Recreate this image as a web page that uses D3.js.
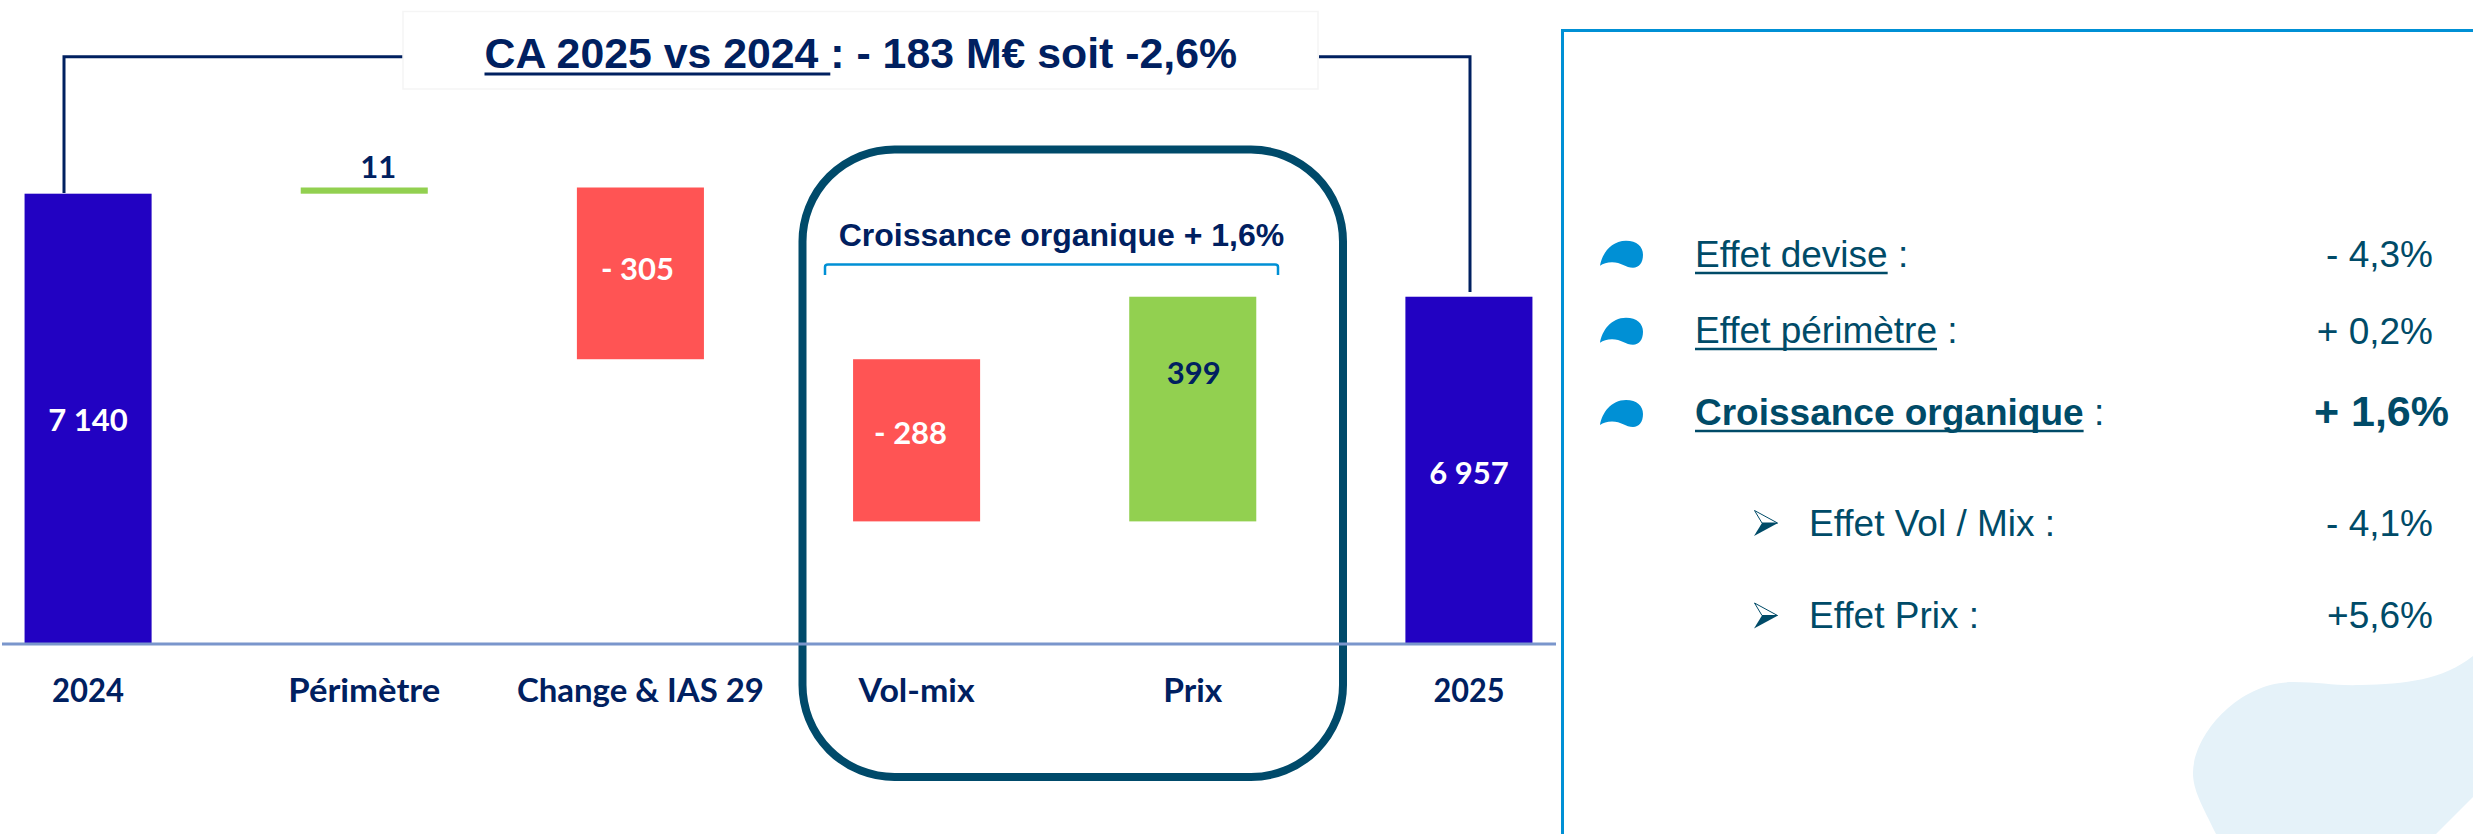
<!DOCTYPE html>
<html lang="fr">
<head>
<meta charset="utf-8">
<style>
html,body{margin:0;padding:0;background:#fff;}
svg{display:block;}
text{font-family:"Liberation Sans",Arial,sans-serif;}
.cal{font-family:Lato,"Noto Sans",sans-serif;font-weight:700;}
</style>
<script src="https://cdnjs.cloudflare.com/ajax/libs/d3/7.9.0/d3.min.js"></script>
</head>
<body>
<script>
// ---- data ----
const categories = ["2024", "Périmètre", "Change & IAS 29", "Vol-mix", "Prix", "2025"];
const kinds      = ["total", "delta", "delta", "delta", "delta", "total"];
const values     = [7140, 11, -305, -288, 399, 6957];
const barLabels  = ["7 140", "11", "- 305", "- 288", "399", "6 957"];
const title1 = "CA 2025 vs 2024 ";
const title2 = ": - 183 M€ soit -2,6%";
const bracketTitle = "Croissance organique + 1,6%";
const effectLabels = ["Effet devise", "Effet périmètre", "Croissance organique"];
const effectValues = ["- 4,3%", "+ 0,2%", "+ 1,6%"];
const subLabels = ["Effet Vol / Mix :", "Effet Prix :"];
const subValues = ["- 4,1%", "+5,6%"];

const W = 2473, H = 834;
const NAVY = "#002060", TEAL = "#004B68", BLUE = "#0090D5";
const COLORS = {total:"#2202C2", up:"#92D050", down:"#FF5454"};

const svg = d3.select("body").append("svg").attr("width", W).attr("height", H).attr("viewBox",`0 0 ${W} ${H}`);

// background blob + right panel
svg.append("path").attr("fill","#E5F2F9")
  .attr("d","M2216,834 C2202,805 2193,790 2193,773 C2193,735 2238,682 2293,682 C2320,682 2335,686 2361,685 C2405,684 2443,680 2473,656 L2473,797 L2436,834 Z");
svg.append("path").attr("fill","none").attr("stroke",BLUE).attr("stroke-width",3)
  .attr("d",`M1562.5,${H} V30.5 H${W}`);

// waterfall computation
let running = 0;
const bars = values.map((v,i)=>{
  if(kinds[i]==="total"){ running = v; return {cat:categories[i],kind:"total",lo:null,hi:v,label:barLabels[i],v}; }
  const a = running, b = running + v; running = b;
  return {cat:categories[i],kind:v>=0?"up":"down",lo:Math.min(a,b),hi:Math.max(a,b),label:barLabels[i],v};
});

// scales (truncated value axis, as in the original)
const x = d3.scaleBand().domain(categories).range([-50,1607]).paddingInner(0.54).paddingOuter(0.27);
const y = d3.scaleLinear().domain([6342,7151]).range([643,187.5]);

// rounded focus frame (below the bars)
svg.append("rect").attr("x",802.5).attr("y",149.5).attr("width",540.5).attr("height",627.5)
  .attr("rx",92).attr("ry",92).attr("fill","none").attr("stroke","#004A6A").attr("stroke-width",8);

// bars
svg.append("g").selectAll("rect").data(bars).join("rect")
  .attr("x",d=>x(d.cat)).attr("width",x.bandwidth())
  .attr("y",d=>y(d.hi))
  .attr("height",d=>(d.lo===null? y.range()[0] : y(d.lo))-y(d.hi))
  .attr("fill",d=>COLORS[d.kind]);

// axis
const axisWidths = {"2024":72,"Périmètre":152,"Change & IAS 29":247,"Vol-mix":116,"Prix":59,"2025":71};
const axis = d3.axisBottom(x).tickSize(0).tickPadding(0);
const gx = svg.append("g").attr("transform","translate(0,644)").call(axis);
gx.select(".domain").remove();
gx.append("line").attr("x1",2).attr("x2",1556).attr("stroke","#7A96CC").attr("stroke-width",3);
gx.selectAll(".tick text").attr("class","cal").attr("font-size",33).attr("fill",NAVY)
  .attr("y",0).attr("dy",58).style("font-family",'Lato,"Noto Sans",sans-serif').style("font-weight",700)
  .attr("textLength",d=>axisWidths[d]).attr("lengthAdjust","spacingAndGlyphs");

// bar value labels
const labelY = {"2024":431,"Périmètre":178,"Change & IAS 29":280,"Vol-mix":444,"Prix":384,"2025":484};
const labelDx = {"2024":0,"Périmètre":14,"Change & IAS 29":-3,"Vol-mix":-6,"Prix":1,"2025":0};
svg.append("g").selectAll("text").data(bars).join("text").attr("class","cal")
  .attr("x",d=>x(d.cat)+x.bandwidth()/2+labelDx[d.cat])
  .attr("y",d=>labelY[d.cat]).attr("text-anchor","middle").attr("font-size",31)
  .attr("fill",d=>(d.cat==="Périmètre"||d.cat==="Prix")?NAVY:"#fff").text(d=>d.label);

// connectors
svg.append("path").attr("fill","none").attr("stroke",NAVY).attr("stroke-width",3)
  .attr("d",`M64,193 V56.7 H403`);
svg.append("path").attr("fill","none").attr("stroke",NAVY).attr("stroke-width",3)
  .attr("d",`M1319,56.7 H1470 V292`);

// title box
svg.append("rect").attr("x",403).attr("y",11.5).attr("width",915).attr("height",77.5)
  .attr("fill","#fff").attr("stroke","#F5F5F5").attr("stroke-width",1.5);
const t = svg.append("text").attr("x",484.5).attr("y",68).attr("font-size",42.8).attr("font-weight",700).attr("fill",NAVY).attr("xml:space","preserve").style("white-space","pre");
const t1 = t.append("tspan").text(title1);
t.append("tspan").text(title2);
const tw = t1.node().getComputedTextLength();
svg.append("line").attr("x1",484.5).attr("x2",484.5+tw).attr("y1",74).attr("y2",74).attr("stroke",NAVY).attr("stroke-width",3);

// organic growth bracket
svg.append("text").attr("x",1061.5).attr("y",246).attr("text-anchor","middle").attr("font-size",32).attr("font-weight",700).attr("fill",NAVY).text(bracketTitle);
svg.append("path").attr("fill","none").attr("stroke",BLUE).attr("stroke-width",2.5)
  .attr("d","M825,275 V267 Q825,264.5 828,264.5 H1275 Q1278,264.5 1278,267 V275");

// right panel rows
const rowBase = [267, 343, 425];
const bulletTop = [240.7, 317.7, 400];
effectLabels.forEach((lab,i)=>{
  const bold = i===2;
  svg.append("path").attr("fill",BLUE).attr("transform",`translate(1600,${bulletTop[i]})`)
    .attr("d","M0,25 C2,13 11,0 26,0 C37,0 43,6 43,14 C43,22 39,27 33,27 C26,27 21,21.5 12,21.5 C7,21.5 3,23 0,25 Z");
  const tx = svg.append("text").attr("x",1695).attr("y",rowBase[i]).attr("font-size",37).attr("fill",TEAL).attr("xml:space","preserve").style("white-space","pre");
  const a = tx.append("tspan").attr("font-weight",bold?700:400).text(lab);
  tx.append("tspan").attr("font-weight",400).attr("font-size",37).text(" :");
  const w = a.node().getComputedTextLength();
  svg.append("line").attr("x1",1695).attr("x2",1695+w).attr("y1",rowBase[i]+6).attr("y2",rowBase[i]+6).attr("stroke",TEAL).attr("stroke-width",2.5);
  svg.append("text").attr("x",bold?2449:2433).attr("y",rowBase[i]+(i===0?0:1)).attr("text-anchor","end")
    .attr("font-size",bold?43:37).attr("font-weight",bold?700:400).attr("fill",TEAL).text(effectValues[i]);
});

const subBase = [535.5, 628];
subLabels.forEach((lab,i)=>{
  const g = svg.append("g").attr("transform",`translate(1754,${subBase[i]-25.5})`);
  g.append("path").attr("fill","#fff").attr("stroke",TEAL).attr("stroke-width",1).attr("d","M0.5,0.5 L23.5,13 L8,13 Z");
  g.append("path").attr("fill",TEAL).attr("d","M0,26 L24,13 L8,13 Z");
  svg.append("text").attr("x",1809).attr("y",subBase[i]).attr("font-size",37).attr("fill",TEAL).text(lab);
  svg.append("text").attr("x",2433).attr("y",subBase[i]).attr("text-anchor","end").attr("font-size",37).attr("fill",TEAL).text(subValues[i]);
});
</script>
</body>
</html>
